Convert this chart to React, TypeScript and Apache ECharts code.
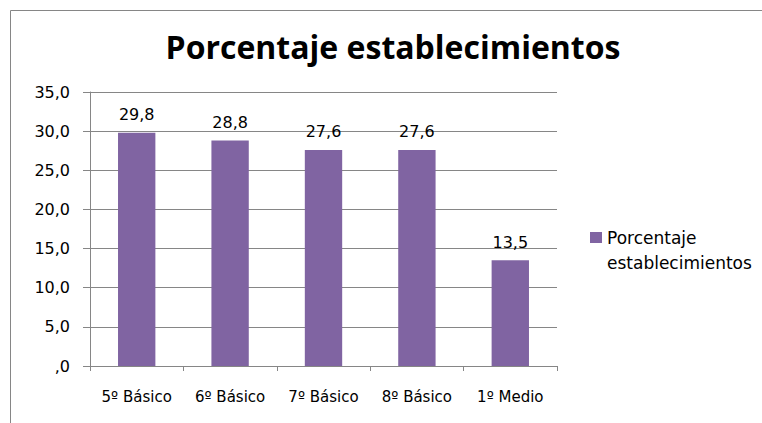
import React, { useEffect, useRef } from "react";
import * as echarts from "echarts";

const categories = ["5º Básico", "6º Básico", "7º Básico", "8º Básico", "1º Medio"];
const values = [29.8, 28.8, 27.6, 27.6, 13.5];
const seriesName = "Porcentaje establecimientos";
const titleText = "Porcentaje establecimientos";

const fmt = (v: number) => (v === 0 ? ",0" : v.toFixed(1).replace(".", ","));

export default function App() {
  const ref = useRef<HTMLDivElement>(null);
  useEffect(() => {
    if (!ref.current) return;
    const chart = echarts.init(ref.current, null, { renderer: "svg" });
    const font = "'DejaVu Sans', sans-serif";
    const titleFont = "'Open Sans', 'Noto Sans', sans-serif";
    chart.setOption({
      animation: false,
      backgroundColor: "#ffffff",
      textStyle: { fontFamily: font },
      title: {
        text: titleText,
        left: 388,
        top: 25,
        textAlign: "center",
        textStyle: { fontFamily: titleFont, fontWeight: "bold", fontSize: 32, color: "#000000" },
      },
      grid: { left: 90, right: 205, top: 92, bottom: 57, containLabel: false },
      legend: { show: false },
      xAxis: {
        type: "category",
        data: categories,
        axisLine: { lineStyle: { color: "#868686", width: 1 } },
        axisTick: { show: true, length: 5, lineStyle: { color: "#868686" } },
        axisLabel: { color: "#000000", fontSize: 15, margin: 23, fontFamily: font },
        splitLine: { show: false },
      },
      yAxis: {
        type: "value",
        min: 0,
        max: 35,
        interval: 5,
        axisLine: { show: true, lineStyle: { color: "#868686", width: 1 } },
        axisTick: { show: true, length: 7, lineStyle: { color: "#868686" } },
        axisLabel: { color: "#000000", fontSize: 16, margin: 20, formatter: (v: number) => fmt(v), fontFamily: font },
        splitLine: { show: true, lineStyle: { color: "#868686", width: 1 } },
      },
      series: [
        {
          name: seriesName,
          type: "bar",
          data: values,
          barWidth: "40%",
          itemStyle: { color: "#8064A2" },
          label: {
            show: true,
            position: "top",
            distance: 10,
            color: "#000000",
            fontSize: 16,
            fontFamily: font,
            formatter: (p: any) => fmt(p.value),
          },
        },
      ],
      graphic: [
        {
          type: "rect",
          shape: { x: 10.5, y: 10.5, width: 800, height: 500 },
          style: { fill: "none", stroke: "#868686", lineWidth: 1 },
          silent: true,
        },
        {
          type: "rect",
          shape: { x: 590, y: 232, width: 12, height: 11 },
          style: { fill: "#8064A2" },
        },
        {
          type: "text",
          x: 607,
          y: 225,
          style: {
            text: "Porcentaje\nestablecimientos",
            fill: "#000000",
            font: `17px ${font}`,
            lineHeight: 25,
          },
        },
      ],
    });
    return () => chart.dispose();
  }, []);
  return <div ref={ref} style={{ width: 762, height: 423, position: "absolute", left: 0, top: 0 }} />;
}
